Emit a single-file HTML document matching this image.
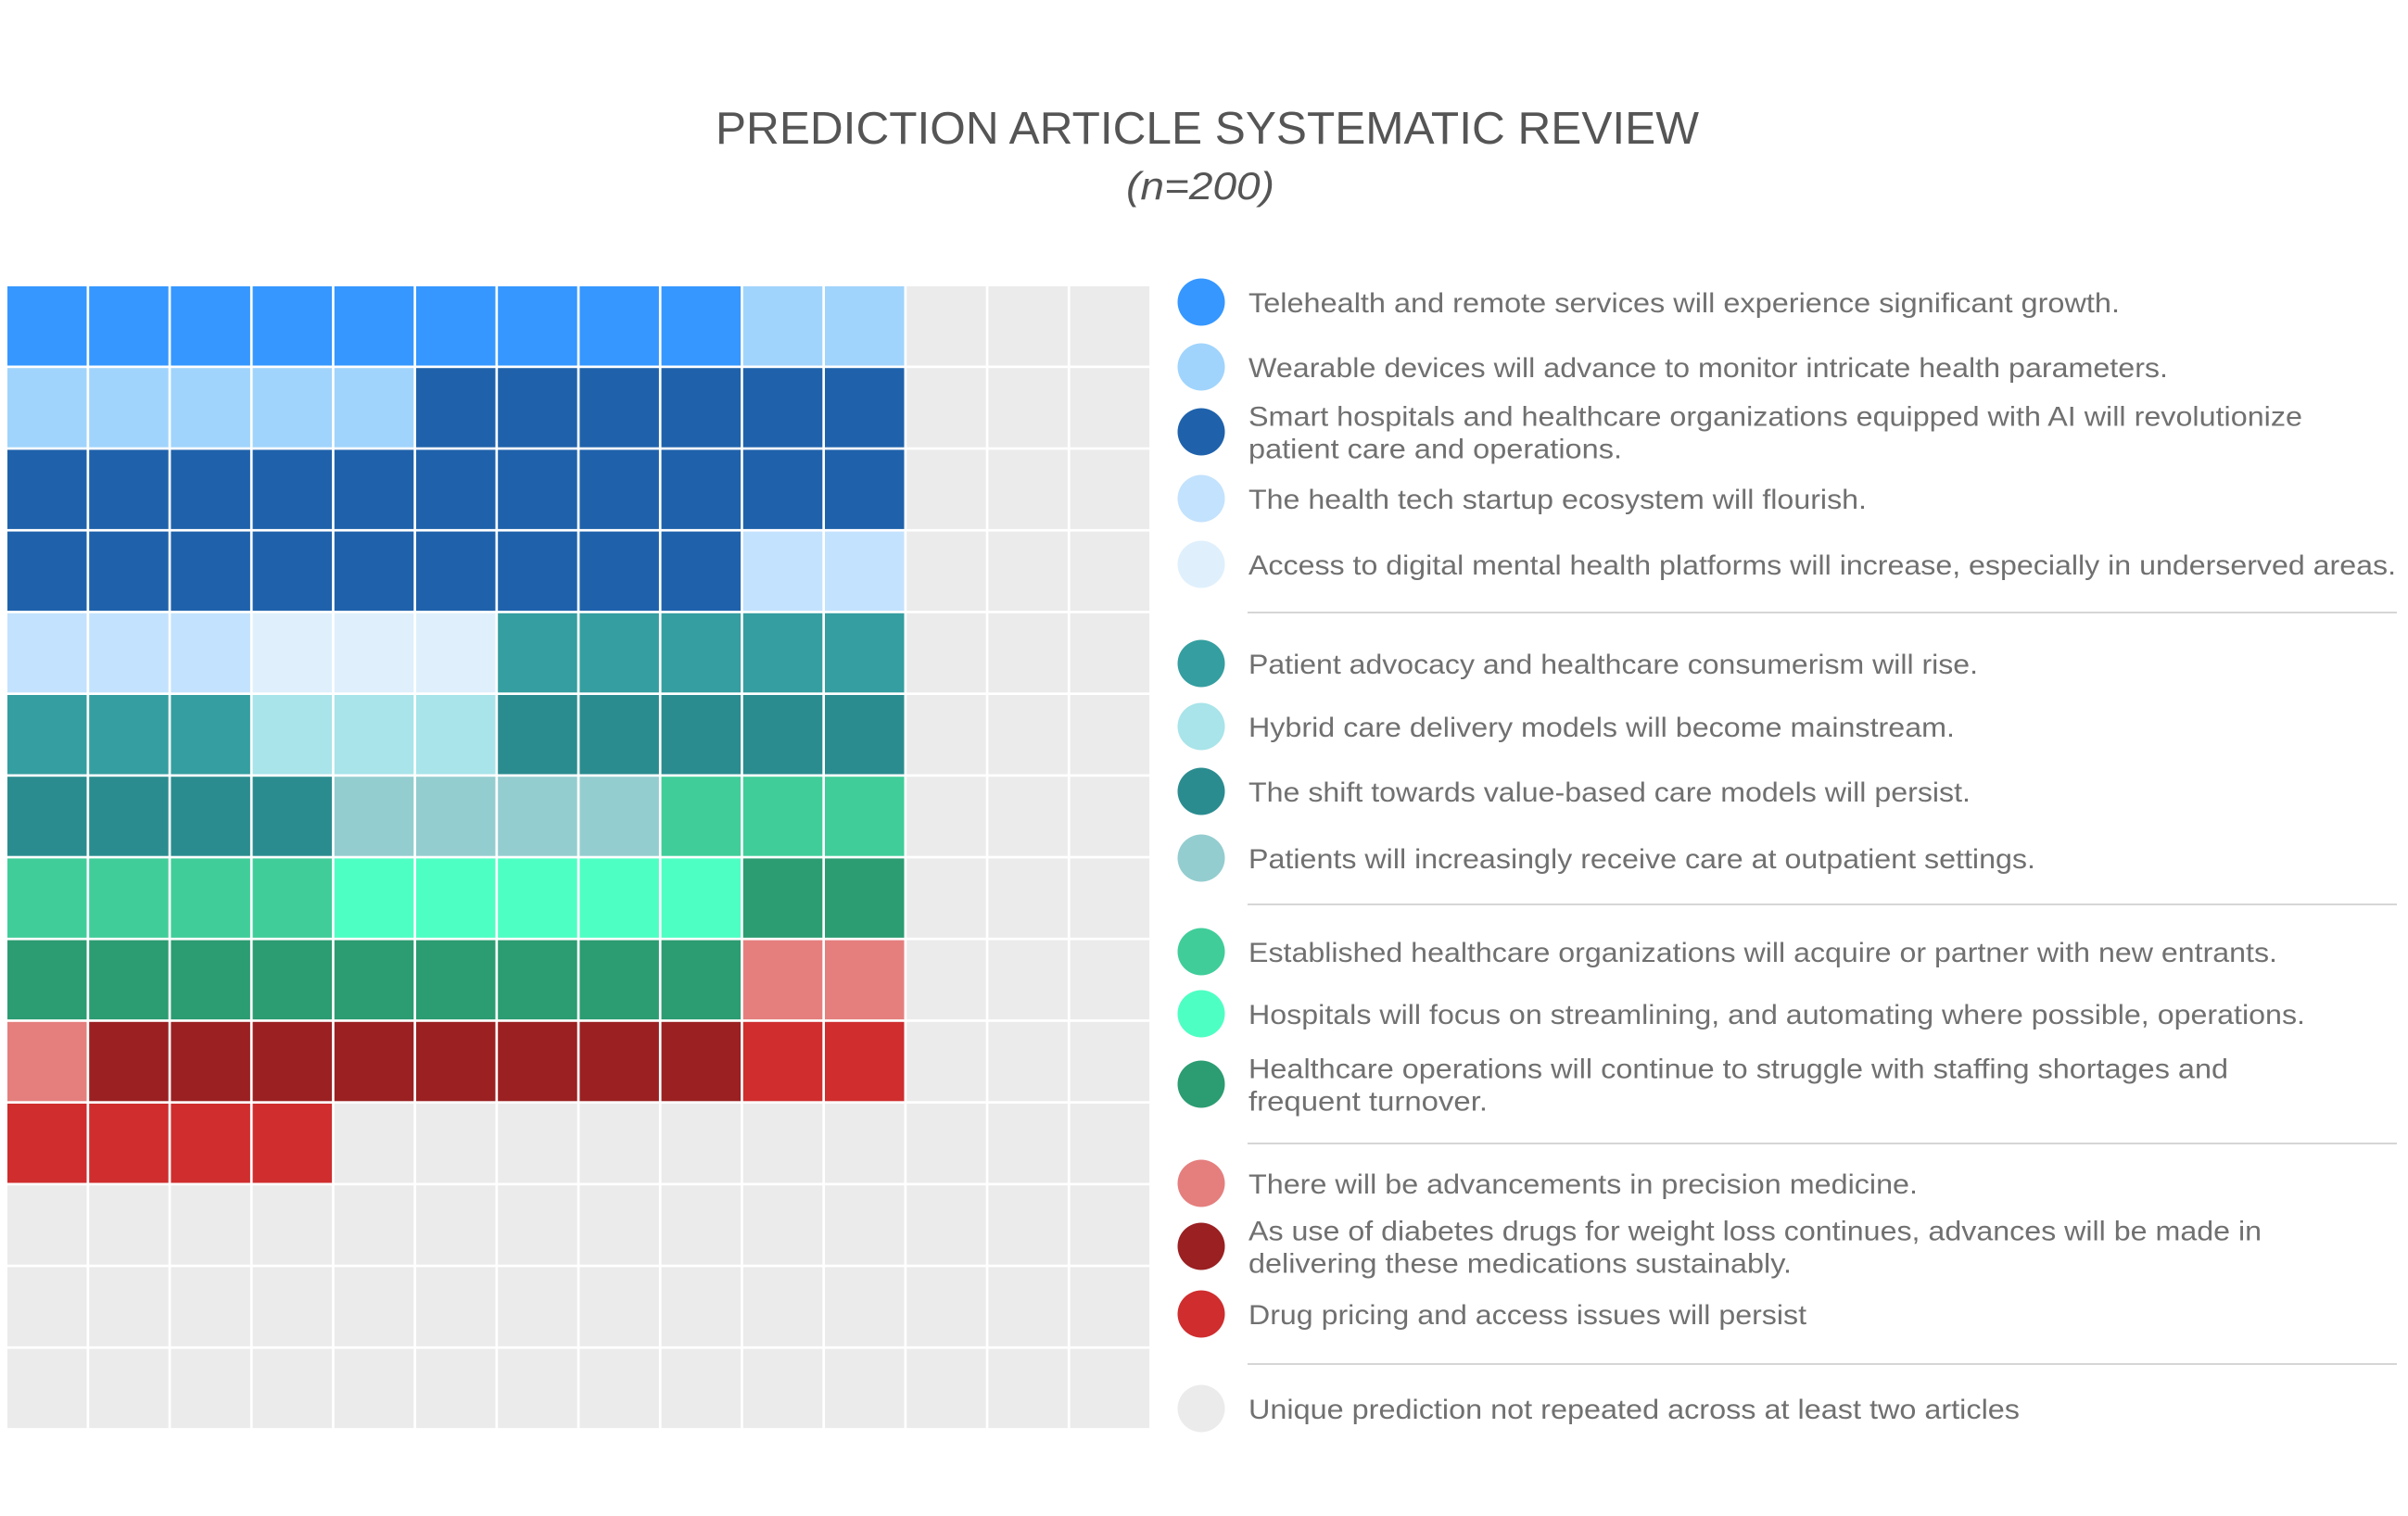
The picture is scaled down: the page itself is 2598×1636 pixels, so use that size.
<!DOCTYPE html>
<html><head><meta charset="utf-8"><style>
html,body{margin:0;padding:0;background:#fff;}
svg{display:block;font-family:"Liberation Sans",sans-serif;}
</style></head><body>
<svg id="chart" width="2598" height="1636" viewBox="0 0 2598 1636" xmlns="http://www.w3.org/2000/svg">
<text x="772" y="155" font-size="49" fill="#555" textLength="1061" lengthAdjust="spacingAndGlyphs">PREDICTION ARTICLE SYSTEMATIC REVIEW</text>
<text x="1215" y="215" font-size="42" font-style="italic" fill="#555" textLength="160" lengthAdjust="spacingAndGlyphs">(n=200)</text>
<g id="grid"></g>
<g id="legend"></g>
</svg>
<script>
const categories = ["Telehealth","Wearable","Smart hospitals","Startup ecosystem","Digital mental health","Patient advocacy","Hybrid care","Value-based care","Outpatient","Established partner","Streamlining","Staffing","Precision medicine","Diabetes drugs","Drug pricing"];
const counts = [9,7,26,5,3,8,3,9,4,7,5,11,3,8,6];
const colors = ["#3597FF","#A0D4FC","#1F62AB","#C3E2FD","#DFF0FC","#359EA0","#A8E4E9","#2B8C8F","#94CDCF","#40CD9A","#4EFFC4","#2C9C72","#E47F7E","#9A2022","#CF2D2E"];
const otherColor = "#EBEBEB";
const legendLines = [
 ["Telehealth and remote services will experience significant growth."],
 ["Wearable devices will advance to monitor intricate health parameters."],
 ["Smart hospitals and healthcare organizations equipped with AI will revolutionize","patient care and operations."],
 ["The health tech startup ecosystem will flourish."],
 ["Access to digital mental health platforms will increase, especially in underserved areas."],
 ["Patient advocacy and healthcare consumerism will rise."],
 ["Hybrid care delivery models will become mainstream."],
 ["The shift towards value-based care models will persist."],
 ["Patients will increasingly receive care at outpatient settings."],
 ["Established healthcare organizations will acquire or partner with new entrants."],
 ["Hospitals will focus on streamlining, and automating where possible, operations."],
 ["Healthcare operations will continue to struggle with staffing shortages and","frequent turnover."],
 ["There will be advancements in precision medicine."],
 ["As use of diabetes drugs for weight loss continues, advances will be made in","delivering these medications sustainably."],
 ["Drug pricing and access issues will persist"],
 ["Unique prediction not repeated across at least two articles"]
];
const NS="http://www.w3.org/2000/svg";
const grid=document.getElementById('grid'), legend=document.getElementById('legend');
const cols=14, rows=14, fillCols=11, x0=8, y0=309, pitch=88.2, cell=85.5;
let seq=[];
counts.forEach((c,i)=>{for(let k=0;k<c;k++)seq.push(i);});
let idx=0;
const cellAt=[];
for(let r=0;r<rows;r++){for(let c=0;c<cols;c++){
  let ci=-1;
  if(c<fillCols && idx<seq.length){ci=seq[idx];idx++;}
  const rect=document.createElementNS(NS,'rect');
  rect.setAttribute('x',x0+c*pitch);rect.setAttribute('y',y0+r*pitch);
  rect.setAttribute('width',cell);rect.setAttribute('height',cell);
  rect.setAttribute('fill',ci<0?otherColor:colors[ci]);
  
  
  grid.appendChild(rect);
}}
// legend layout
const circleY=[326,396,466,538,609,716,784,854,926,1027,1094,1170,1277,1345,1418,1520];
const lineEnds=[[2287],[2339],[2484,1750],[2014],[2585],[2134],[2109],[2126],[2196],[2457],[2487],[2404,1605],[2069],[2440,1933],[1949],[2179]];
const seps=[661,976,1234,1472];
const tx=1347;
legendLines.forEach((lines,i)=>{
  const g=document.createElementNS(NS,'g');
  
  
  const cy=circleY[i];
  const circ=document.createElementNS(NS,'circle');
  circ.setAttribute('cx',1296);circ.setAttribute('cy',cy);circ.setAttribute('r',25.5);
  circ.setAttribute('fill',i<colors.length?colors[i]:otherColor);
  
  
  g.appendChild(circ);
  const n=lines.length;
  lines.forEach((ln,j)=>{
    const t=document.createElementNS(NS,'text');
    const baseY=cy+11+(j-(n-1)/2)*35;
    t.setAttribute('x',tx);t.setAttribute('y',baseY);
    t.setAttribute('font-size','30');t.setAttribute('fill','#707070');
    t.setAttribute('textLength',lineEnds[i][j]-tx);
    t.setAttribute('lengthAdjust','spacingAndGlyphs');
    
    
    t.textContent=ln;
    g.appendChild(t);
  });
  legend.appendChild(g);
});
seps.forEach(y=>{
  const l=document.createElementNS(NS,'line');
  l.setAttribute('x1',1346);l.setAttribute('x2',2586);l.setAttribute('y1',y);l.setAttribute('y2',y);
  l.setAttribute('stroke','#d6d6d6');l.setAttribute('stroke-width','2');
  
  
  legend.appendChild(l);
});
</script>
</body></html>
